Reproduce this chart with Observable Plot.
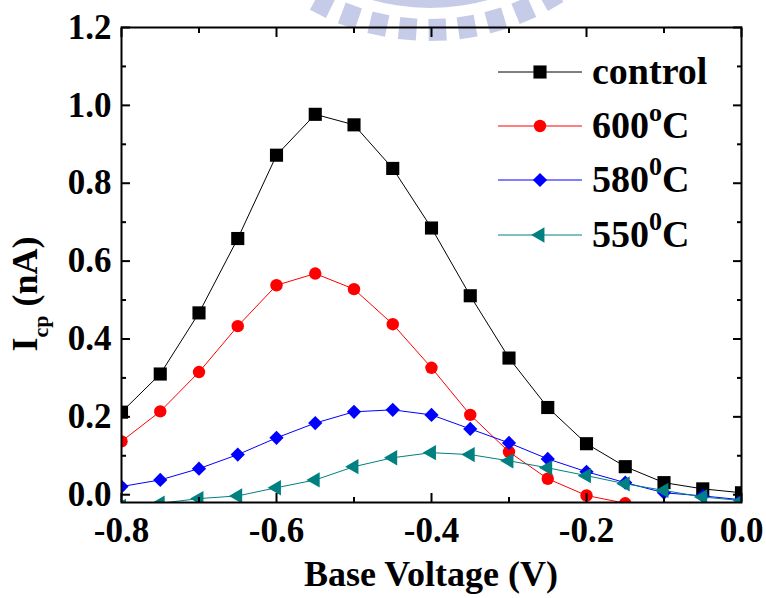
<!DOCTYPE html>
<html><head><meta charset="utf-8">
<script src="https://cdn.jsdelivr.net/npm/d3@7"></script>
<script src="https://cdn.jsdelivr.net/npm/@observablehq/plot@0.6"></script>
<style>
body{margin:0;background:#fff}
#chart{position:relative;width:766px;height:598px}
</style>
</head><body><div id="chart"></div>
<script>
// ---- data ----
const voltage = [-0.8,-0.75,-0.7,-0.65,-0.6,-0.55,-0.5,-0.45,-0.4,-0.35,-0.3,-0.25,-0.2,-0.15,-0.1,-0.05,0.0];
const control = [0.212,0.310,0.467,0.658,0.872,0.977,0.950,0.838,0.685,0.511,0.351,0.224,0.131,0.072,0.031,0.015,0.005];
const t600    = [0.137,0.214,0.315,0.433,0.538,0.568,0.528,0.438,0.326,0.205,0.110,0.041,-0.002,-0.022];
const t580    = [0.021,0.038,0.067,0.103,0.146,0.184,0.213,0.218,0.205,0.169,0.133,0.092,0.059,0.031,0.005,-0.003,-0.013];
const t550    = [-0.030,-0.022,-0.010,-0.003,0.018,0.038,0.072,0.095,0.108,0.103,0.087,0.069,0.049,0.028,0.011,-0.006,-0.015];
const seriesLabels = ["control","600","580","550"];
const seriesSup = ["", "o", "0", "0"];
const xTicks = [-0.8,-0.6,-0.4,-0.2,0.0];
const xMinor = [-0.7,-0.5,-0.3,-0.1];
const yTicks = [0.0,0.2,0.4,0.6,0.8,1.0,1.2];
const yMinor = [0.1,0.3,0.5,0.7,0.9,1.1];
const xTitle = "Base Voltage (V)";
const yTitleMain = "I", yTitleSub = "cp", yTitleRest = " (nA)";

// ---- styles ----
const colors = ["#000000","#ff0000","#0000ff","#008080"];
const symbols = ["square","circle","diamond2","triangle"];
const radii = [7.4,6.2,6.4,5.7];
const rotations = [0,0,0,-90];
const values = [control,t600,t580,t550];

const tables = values.map((vals,k) => vals.map((v,i) => ({x: voltage[i], y: v, s: seriesLabels[k]})));

const marks = [];
tables.forEach((tbl,k) => {
  marks.push(Plot.line(tbl, {x:"x", y:"y", stroke: colors[k], strokeWidth: 1, clip: true}));
  marks.push(Plot.dot(tbl, {x:"x", y:"y", symbol: symbols[k], r: radii[k], fill: colors[k], stroke: "none", rotate: rotations[k], clip: true}));
});

const fmt = d => d.toFixed(1);
marks.push(
  Plot.frame({stroke:"black", strokeWidth: 2}),
  Plot.axisX({ticks: xTicks, anchor:"bottom", tickSize: 0, tickPadding: 15, tickFormat: fmt, fontSize: 35}),
  Plot.axisX({ticks: xTicks, anchor:"bottom", tickSize: -9, strokeWidth: 2, tickFormat: () => ""}),
  Plot.axisX({ticks: xMinor, anchor:"bottom", tickSize: -5, strokeWidth: 2, tickFormat: () => ""}),
  Plot.axisX({ticks: xTicks, anchor:"top", tickSize: -9, strokeWidth: 2, tickFormat: () => ""}),
  Plot.axisX({ticks: xMinor, anchor:"top", tickSize: -5, strokeWidth: 2, tickFormat: () => ""}),
  Plot.axisY({ticks: yTicks, anchor:"left", tickSize: 0, tickPadding: 10, tickFormat: fmt, fontSize: 35}),
  Plot.axisY({ticks: yTicks, anchor:"left", tickSize: -9, strokeWidth: 2, tickFormat: () => ""}),
  Plot.axisY({ticks: yMinor, anchor:"left", tickSize: -5, strokeWidth: 2, tickFormat: () => ""}),
  Plot.axisY({ticks: yTicks, anchor:"right", tickSize: -9, strokeWidth: 2, tickFormat: () => ""}),
  Plot.axisY({ticks: yMinor, anchor:"right", tickSize: -5, strokeWidth: 2, tickFormat: () => ""})
);

const chart = Plot.plot({
  width: 766, height: 598,
  marginLeft: 121, marginRight: 25, marginTop: 27, marginBottom: 96,
  x: {domain: [-0.8, 0.0], label: null},
  y: {domain: [-0.02, 1.2], label: null},
  style: {fontFamily: "'Liberation Serif','Times New Roman',serif", fontWeight: "bold", fontSize: "35px", color: "black", background: "white", overflow: "visible"},
  marks
});
document.getElementById("chart").appendChild(chart);

const svg = d3.select(chart);
const FONT = "'Liberation Serif','Times New Roman',serif";

// faint watermark logo (partial, at top)
const wm = svg.insert("g", ":first-child").attr("fill", "#c6cbe8");
const cx = 430, cy = -206;
wm.append("path").attr("d", d3.arc()({innerRadius: 200, outerRadius: 214, startAngle: Math.PI*0.6, endAngle: Math.PI*1.4})).attr("transform", `translate(${cx},${cy})`);
const barAngles = [-27,-19.8,-12.6,-5.4,1.8,9,16.2,23.4,30.6];
barAngles.forEach(a => {
  const t = a*Math.PI/180, w = 2.2*Math.PI/180;
  const p = (r, ang) => [cx + r*Math.sin(ang), cy + r*Math.cos(ang)];
  const pts = [p(225, t-w), p(247, t-w*0.95), p(247, t+w*0.95), p(225, t+w)];
  wm.append("path").attr("d", "M" + pts.map(q => q.join(",")).join("L") + "Z");
});

// x title
svg.append("text").attr("x", 431).attr("y", 586).attr("text-anchor", "middle")
  .attr("font-family", FONT).attr("font-weight", "bold").attr("font-size", 36).attr("fill", "black")
  .text(xTitle);

// y title
const yt = svg.append("text").attr("transform", "translate(37,294) rotate(-90)").attr("text-anchor", "middle")
  .attr("font-family", FONT).attr("font-weight", "bold").attr("font-size", 36).attr("fill", "black");
yt.append("tspan").text(yTitleMain);
yt.append("tspan").attr("font-size", 22).attr("dy", 11).text(yTitleSub);
yt.append("tspan").attr("dy", -11).text(yTitleRest);

// legend
const rowsY = [72, 126, 180, 235];
const lg = svg.append("g");
const symMap = {square: d3.symbolSquare, circle: d3.symbolCircle, diamond2: d3.symbolDiamond2, triangle: d3.symbolTriangle};
seriesLabels.forEach((lab, k) => {
  const y = rowsY[k];
  lg.append("line").attr("x1", 498).attr("x2", 582).attr("y1", y).attr("y2", y).attr("stroke", colors[k]).attr("stroke-width", 1);
  lg.append("path").attr("d", d3.symbol(symMap[symbols[k]], Math.PI*radii[k]*radii[k])())
    .attr("transform", `translate(540,${y}) rotate(${rotations[k]})`).attr("fill", colors[k]);
  const t = lg.append("text").attr("x", 592).attr("y", y + 12).attr("text-anchor", "start")
    .attr("font-family", FONT).attr("font-weight", "bold").attr("font-size", 38).attr("fill", "black");
  if (seriesSup[k]) {
    t.append("tspan").text(lab);
    t.append("tspan").attr("font-size", 26).attr("dy", -17).text(seriesSup[k]);
    t.append("tspan").attr("dy", 17).text("C");
  } else {
    t.text(lab);
  }
});
</script>
</body></html>
